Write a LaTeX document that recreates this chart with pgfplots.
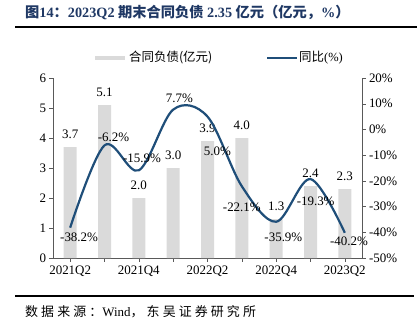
\documentclass[border=0pt]{standalone}
\usepackage{pgfplots}
\pgfplotsset{compat=1.18}
\usepackage{fontspec}
\setmainfont{Liberation Serif}
\newfontfamily\cjk{Noto Sans CJK SC}
\definecolor{barg}{HTML}{DADADA}
\definecolor{lineb}{HTML}{1F4E79}
\definecolor{titleb}{HTML}{1F3864}
\definecolor{axc}{HTML}{595959}
\pgfplotsset{/pgf/number format/assume math mode=true}
\newcommand{\C}[1]{{\cjk #1}}
\begin{document}
\begin{tikzpicture}
\path[use as bounding box] (0bp,0bp) rectangle (419bp,-328bp);
\node[anchor=west, text=titleb, inner sep=0, font=\fontsize{14.3}{16}\selectfont\bfseries] at (25bp,-13bp)
 {\C{\bfseries 图}14\C{\bfseries ：}2023Q2 \C{\bfseries 期末合同负债} 2.35 \C{\bfseries 亿元（亿元，}\%\C{\bfseries ）}};
\draw[line width=1.5bp] (15bp,-27bp) -- (417bp,-27bp);
\draw[line width=1.2bp] (15bp,-296bp) -- (414bp,-296bp);
\node[anchor=west, inner sep=0, font=\fontsize{13}{15}\selectfont] at (25bp,-312bp)
 {\cjk\addfontfeature{LetterSpace=24}数据来源：{\rmfamily Wind}，东吴证券研究所};
% legend
\fill[barg] (95bp,-55.5bp) rectangle (125bp,-60bp);
\node[anchor=west, inner sep=0, font=\fontsize{12.5}{14}\selectfont\cjk] at (129bp,-57.5bp) {合同负债(亿元)};
\draw[lineb, line width=2bp] (267bp,-57.5bp) -- (297bp,-57.5bp);
\node[anchor=west, inner sep=0, font=\fontsize{12.5}{14}\selectfont] at (299bp,-57.5bp) {\C{同比}(\%)};
\begin{axis}[
  at={(53bp,-258bp)}, anchor=south west, scale only axis,
  width=309bp, height=180bp,
  xmin=-0.5, xmax=8.5, ymin=0, ymax=6,
  ytick={0,1,...,6},
  xtick={0,1,...,8},
  xticklabels={2021Q2,,2021Q4,,2022Q2,,2022Q4,,2023Q2},
  axis y line*=left, axis x line*=bottom,
  axis line style={axc}, tick style={axc},
  tick align=outside, major tick length=3.5bp,
  tick label style={font=\fontsize{13}{15}\selectfont},
  xticklabel style={yshift=-1bp},
  ybar, bar width=13bp,
  nodes near coords,
  nodes near coords style={font=\fontsize{13}{15}\selectfont, anchor=south, yshift=5bp, /pgf/number format/.cd, fixed, fixed zerofill, precision=1},
  clip=false,
]
\addplot[fill=barg, draw=none] coordinates {(0,3.7) (1,5.1) (2,2.0) (3,3.0) (4,3.9) (5,4.0) (6,1.3) (7,2.4) (8,2.3)};
\end{axis}
\begin{axis}[
  at={(53bp,-258bp)}, anchor=south west, scale only axis,
  width=309bp, height=180bp,
  xmin=-0.5, xmax=8.5, ymin=-50, ymax=20,
  ytick={-50,-40,...,20},
  yticklabel={\pgfmathprintnumber{\tick}\%},
  axis y line*=right, axis x line=none,
  axis line style={axc}, tick style={axc},
  tick align=outside, major tick length=3.5bp,
  tick label style={font=\fontsize{13}{15}\selectfont},
  clip=false,
]
\addplot[lineb, line width=2.2bp, smooth, tension=0.55] coordinates {(0,-38.2) (1,-6.2) (2,-15.9) (3,7.7) (4,5.0) (5,-22.1) (6,-35.9) (7,-19.3) (8,-40.2)};
\begin{scope}[every node/.style={font=\fontsize{13}{15}\selectfont, inner sep=0}]
\node at (axis cs:0.26,-41.9) {-38.2\%};
\node at (axis cs:1.26,-3.2) {-6.2\%};
\node at (axis cs:2.09,-11.3) {-15.9\%};
\node at (axis cs:3.18,12.3) {7.7\%};
\node at (axis cs:4.29,-8.6) {5.0\%};
\node at (axis cs:5.0,-30.3) {-22.1\%};
\node at (axis cs:6.21,-41.9) {-35.9\%};
\node at (axis cs:7.15,-27.9) {-19.3\%};
\node at (axis cs:8.12,-43.4) {-40.2\%};
\end{scope}
\end{axis}
\end{tikzpicture}
\end{document}
